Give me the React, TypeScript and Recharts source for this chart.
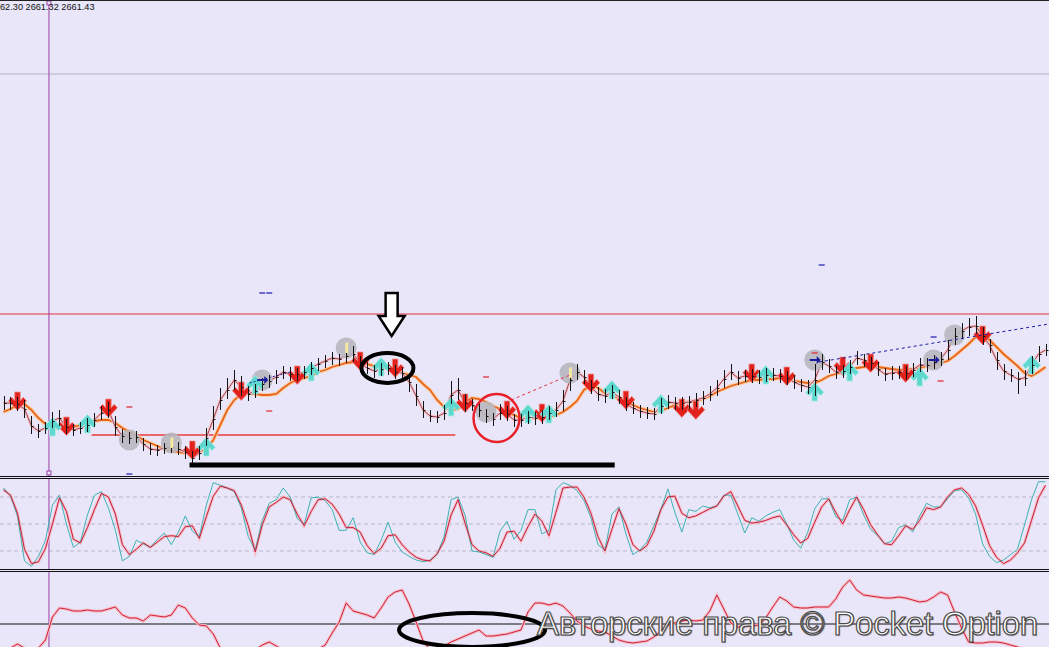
import React from "react";
import {
  ComposedChart,
  Line,
  Bar,
  Scatter,
  XAxis,
  YAxis,
  ReferenceLine,
  ReferenceDot,
} from "recharts";

const W = 1049;
const BG = "#e8e6f8";

// price, in points above the floor of the main panel
const closes = [
  73, 73, 72, 67, 50, 45, 48, 55, 58, 49,
  46, 48, 51, 56, 63, 66, 49, 40, 38, 39,
  32, 27, 26, 28, 29, 27, 24, 18, 23, 38,
  57, 76, 86, 96, 89, 82, 85, 92, 95, 99,
  104, 102, 102, 104, 108, 112, 115, 118, 117, 120,
  122, 113, 108, 105, 107, 108, 104, 103, 94, 80,
  66, 60, 59, 63, 81, 86, 73, 71, 66, 60,
  57, 63, 62, 56, 56, 59, 58, 59, 63, 66,
  75, 96, 104, 99, 89, 82, 80, 84, 79, 72,
  68, 65, 63, 62, 70, 74, 73, 73, 74, 76,
  78, 82, 88, 97, 104, 98, 100, 100, 99, 101,
  101, 100, 98, 94, 91, 89, 96, 114, 110, 104,
  105, 109, 118, 116, 113, 107, 102, 103, 104, 103,
  106, 111, 111, 114, 117, 126, 140, 145, 149, 150,
  140, 131, 116, 105, 101, 97, 98, 111, 122, 126,
];
const highs = [
  80, 79, 79, 76, 60, 52, 54, 64, 66, 57,
  52, 54, 58, 63, 70, 74, 60, 47, 44, 45,
  38, 33, 31, 33, 35, 34, 30, 25, 30, 48,
  70, 88, 98, 106, 100, 90, 92, 98, 101, 106,
  110, 109, 108, 110, 114, 118, 121, 124, 122, 127,
  130, 120, 114, 111, 113, 114, 111, 109, 103, 92,
  75, 66, 65, 71, 95, 98, 82, 77, 73, 67,
  63, 72, 70, 62, 62, 65, 64, 66, 70, 74,
  86, 108, 112, 106, 96, 89, 87, 91, 86, 79,
  74, 71, 69, 68, 78, 81, 79, 79, 80, 83,
  85, 90, 96, 106, 112, 105, 106, 107, 106, 108,
  108, 107, 105, 101, 97, 96, 112, 122, 117, 110,
  111, 116, 125, 122, 119, 114, 108, 110, 110, 110,
  113, 118, 118, 121, 124, 136, 148, 153, 158, 160,
  149, 137, 124, 112, 107, 104, 106, 120, 130, 132,
];
const lows = [
  66, 66, 65, 58, 42, 38, 42, 48, 50, 42,
  40, 42, 44, 49, 56, 58, 40, 33, 32, 33,
  25, 21, 20, 22, 23, 21, 17, 12, 16, 30,
  46, 66, 77, 86, 80, 75, 78, 85, 88, 92,
  97, 95, 95, 97, 101, 105, 108, 111, 110, 113,
  114, 106, 102, 98, 100, 101, 97, 96, 84, 70,
  58, 54, 53, 56, 72, 76, 64, 65, 59, 53,
  50, 56, 55, 49, 49, 52, 51, 52, 56, 59,
  65, 85, 96, 92, 82, 75, 73, 77, 72, 65,
  62, 58, 57, 56, 62, 67, 66, 66, 67, 69,
  71, 75, 80, 88, 96, 91, 94, 93, 92, 94,
  95, 93, 91, 87, 84, 82, 80, 106, 103, 97,
  98, 102, 111, 109, 106, 100, 95, 96, 97, 96,
  99, 104, 104, 107, 110, 116, 131, 137, 140, 142,
  131, 123, 106, 96, 94, 82, 90, 102, 114, 120,
];
const slowMa = [
  64, 67, 71, 72, 66, 58, 52, 49, 48, 48,
  49, 51, 54, 55, 56, 56, 53, 48, 44, 40,
  36, 33, 30, 27, 25, 24, 23, 23, 24, 27,
  36, 51, 66, 76, 82, 83, 82, 81, 81, 82,
  88, 93, 96, 98, 100, 104, 106, 109, 111, 113,
  114, 114, 112, 110, 109, 108, 106, 103, 101, 99,
  92, 86, 76, 69, 66, 67, 74, 78, 77, 74,
  70, 67, 64, 61, 58, 58, 58, 58, 59, 61,
  64, 69, 75, 86, 91, 88, 83, 80, 78, 75,
  71, 68, 66, 64, 65, 68, 71, 73, 74, 75,
  77, 80, 84, 87, 90, 92, 94, 96, 96, 97,
  97, 98, 97, 95, 94, 93, 93, 96, 100, 102,
  104, 106, 108, 109, 110, 109, 108, 107, 106, 106,
  107, 108, 110, 111, 113, 115, 120, 126, 132, 139,
  140, 136, 129, 122, 116, 110, 103, 100, 104, 109,
];

const stochK = [
  90, 81, 59, 9, 3, 14, 32, 71, 82, 50,
  24, 30, 60, 82, 86, 68, 43, 9, 14, 32,
  28, 24, 33, 40, 27, 41, 59, 42, 36, 71,
  96, 93, 90, 86, 68, 36, 21, 54, 73, 77,
  90, 80, 56, 50, 79, 80, 76, 66, 43, 43,
  57, 30, 18, 16, 32, 52, 30, 19, 14, 10,
  8, 10, 16, 36, 77, 80, 60, 20, 19, 16,
  13, 42, 53, 33, 43, 66, 66, 39, 43, 88,
  96, 93, 87, 76, 57, 27, 21, 61, 69, 39,
  16, 21, 30, 48, 66, 89, 63, 41, 66, 64,
  70, 68, 70, 82, 82, 61, 40, 57, 53, 59,
  63, 66, 50, 32, 23, 41, 67, 78, 78, 58,
  54, 77, 80, 60, 44, 37, 28, 31, 46, 49,
  41, 59, 73, 69, 69, 78, 87, 88, 79, 61,
  28, 14, 7, 10, 16, 22, 49, 77, 97, 97,
];
const stochD = [
  88, 82, 62, 22, 6, 8, 23, 50, 79, 64,
  33, 29, 46, 66, 84, 80, 61, 27, 16, 22,
  29, 24, 30, 36, 37, 36, 47, 48, 34, 58,
  81, 92, 90, 87, 71, 48, 19, 49, 69, 74,
  80, 77, 61, 48, 64, 77, 78, 72, 61, 46,
  46, 41, 26, 17, 23, 37, 38, 27, 19, 13,
  10, 9, 17, 31, 60, 77, 51, 27, 20, 18,
  14, 23, 41, 42, 31, 47, 61, 53, 37, 63,
  90, 91, 91, 80, 62, 36, 20, 44, 67, 50,
  27, 20, 26, 42, 66, 80, 81, 62, 57, 59,
  63, 67, 70, 81, 86, 70, 54, 51, 52, 54,
  57, 59, 49, 38, 29, 34, 52, 69, 78, 63,
  50, 66, 80, 66, 49, 38, 28, 27, 37, 48,
  44, 54, 68, 66, 69, 80, 88, 90, 83, 70,
  49, 26, 13, 6, 10, 18, 29, 54, 79, 93,
];
const oscillator = [
  -28, -24, -20, -24, -26, -24, -16, 7, 16, 15,
  13, 13, 14, 13, 13, 15, 17, 9, 6, 6,
  3, 9, 8, 7, 9, 19, 16, 6, -1, -2,
  -10, -24, -28, -30, -30, -29, -26, -21, -18, -22,
  -26, -28, -29, -28, -27, -25, -21, -9, 2, 21,
  13, 11, 9, 6, 16, 27, 32, 34, 20, 2,
  -17, -26, -26, -22, -18, -15, -12, -9, -6, -12,
  -12, -11, -10, -8, -6, 12, 21, 21, 19, 21,
  18, 11, 3, -2, -5, -7, -8, -12, -16, -18,
  -19, -18, -17, -13, -7, -1, 1, 3, 4, 3,
  4, 13, 29, 15, 1, -3, -2, -2, -1, 6,
  17, 27, 23, 17, 16, 16, 17, 17, 17, 25,
  37, 44, 34, 29, 28, 27, 26, 26, 27, 26,
  24, 22, 23, 27, 32, 29, 12, -4, -18, -19,
  -19, -18, -18, -19, -21, -23, -25, -27, -28, -28,
];

// [bar, level]
const sellSignals = [
  [2, 73], [9, 48], [15, 66], [27, 24], [34, 83], [42, 99], [51, 113],
  [56, 106], [66, 71], [72, 64], [77, 61], [84, 91], [89, 74], [97, 66],
  [99, 64], [107, 101], [112, 98], [120, 108], [124, 111], [129, 101], [140, 139],
];
const buySignals = [
  [7, 51], [12, 54], [29, 31], [36, 93], [44, 106], [54, 111], [64, 71],
  [75, 64], [78, 64], [87, 88], [94, 74], [109, 103], [116, 86], [121, 106],
  [131, 101], [147, 113],
];
const pivots = [
  [18, 36], [24, 33], [37, 96], [49, 128], [69, 64], [81, 103], [116, 116],
  [133, 116], [136, 141],
];
const pivotMarks = [
  [24, 33, "y"], [37, 96, "b"], [49, 128, "y"], [81, 103, "y"], [116, 116, "b"],
  [133, 116, "b"],
];
const blueTicks = [[37, 183], [38, 183], [117, 211], [18, 2], [133, 139]];
const redTicks = [[18, 69], [38, 65], [69, 99], [134, 95], [116, 123]];

const priceData = closes.map((c, i) => ({
  i,
  close: c,
  range: [lows[i], highs[i]],
  ma: slowMa[i],
}));
const stochData = stochK.map((k, i) => ({ i, k, d: stochD[i] }));
const oscData = oscillator.map((v, i) => ({ i, v }));
const toPts = (arr: any[]) => arr.map(([i, v, kind]) => ({ i, v, kind }));

const N = closes.length;
const M = { top: 0, right: 0, bottom: 0, left: 0 };
const XAX = <XAxis dataKey="i" type="number" domain={[-0.5, N - 0.5]} hide />;

const DownArrow = ({ cx, cy }: any) => (
  <path
    transform={`translate(${cx},${cy})`}
    d="M-2.8,-11 L2.8,-11 L2.8,-2.5 L5.8,-5.8 L9,-2.2 L0,7.5 L-9,-2.2 L-5.8,-5.8 L-2.8,-2.5 Z"
    fill="#e2201c"
    stroke="#f09490"
    strokeWidth={0.8}
  />
);
const UpArrow = ({ cx, cy }: any) => (
  <path
    transform={`translate(${cx},${cy})`}
    d="M-2.8,11 L2.8,11 L2.8,2.5 L5.8,5.8 L9,2.2 L0,-7.5 L-9,2.2 L-5.8,5.8 L-2.8,2.5 Z"
    fill="#5ed7cf"
    stroke="#a8ece6"
    strokeWidth={0.8}
  />
);
const Pivot = ({ cx, cy }: any) => (
  <circle cx={cx} cy={cy} r={10.5} fill="#b8b7be" opacity={0.9} />
);
const PivotMark = ({ cx, cy, payload }: any) =>
  payload.kind === "b" ? (
    <path
      transform={`translate(${cx},${cy})`}
      d="M-5,-1 L2,-1 L2,-4 L6,0 L2,4 L2,1 L-5,1 Z"
      fill="#1c1c9c"
    />
  ) : (
    <path transform={`translate(${cx},${cy})`} d="M-1,-5 L2,-6 L2,5 L-1,5 Z" fill="#f3e6a0" />
  );
const tick = (color: string) => ({ cx, cy }: any) => (
  <line x1={cx - 3} x2={cx + 3} y1={cy} y2={cy} stroke={color} strokeWidth={1.3} />
);

const OhlcBar = (props: any) => {
  const { x, y, width, height, payload } = props;
  if (height == null || isNaN(y)) return null;
  const cx = Math.round(x + width / 2) + 0.5;
  const [lo, hi] = payload.range;
  const cy = Math.round(y + ((hi - payload.close) / (hi - lo)) * height) + 0.5;
  return (
    <g>
      <line x1={cx} x2={cx} y1={y} y2={y + height} stroke="#141414" strokeWidth={1} />
      <line x1={cx} x2={cx + 2} y1={cy} y2={cy} stroke="#141414" strokeWidth={1} />
    </g>
  );
};

const HollowArrow = ({ cx, cy }: any) => (
  <path
    transform={`translate(${cx},${cy})`}
    d="M-6,-22 L6,-22 L6,1 L13,1 L0,21 L-13,1 L-6,1 Z"
    fill="#ffffff"
    stroke="#000"
    strokeWidth={2.5}
  />
);
const ring = (rx: number, ry: number, color: string, sw: number) => ({ cx, cy }: any) => (
  <ellipse cx={cx} cy={cy} rx={rx} ry={ry} fill="none" stroke={color} strokeWidth={sw} />
);
const Square = ({ cx, cy }: any) => (
  <rect x={cx - 2} y={cy - 2} width={4} height={4} fill={BG} stroke="#9a3ea6" strokeWidth={1} />
);

const PURPLE = "#9a3ea6";

function PriceLayer({ children }: { children: React.ReactNode }) {
  return (
    <div style={{ position: "absolute", left: 0, top: 0 }}>
      <ComposedChart width={W} height={476} data={priceData} margin={M}>
        {XAX}
        <YAxis domain={[0, 476]} allowDataOverflow hide />
        {children}
      </ComposedChart>
    </div>
  );
}

export default function App() {
  const hline = (top: number) => (
    <div style={{ position: "absolute", left: 0, top, width: W, height: 1, background: "#111" }} />
  );
  return (
    <div
      style={{
        position: "absolute",
        left: 0,
        top: 0,
        width: W,
        height: 647,
        background: BG,
        overflow: "hidden",
        fontFamily: "'Liberation Sans', Arial, sans-serif",
      }}
    >
      {/* main panel: levels, pivots and moving averages */}
      <PriceLayer>
        <ReferenceLine y={402} stroke="#b6b3c8" strokeWidth={1} />
        <ReferenceLine y={162} stroke="#e2303c" strokeWidth={1.2} />
        <ReferenceLine x={6.5} stroke={PURPLE} strokeWidth={1} />
        <ReferenceLine
          segment={[{ x: 12.6, y: 41 }, { x: 64.6, y: 41 }]}
          stroke="#ec3a3a"
          strokeWidth={1.5}
        />
        <Scatter data={toPts(pivots)} dataKey="v" shape={Pivot} isAnimationActive={false} />
        <Line dataKey="ma" stroke="#fbd0ae" strokeWidth={4} dot={false} isAnimationActive={false} />
        <Line dataKey="ma" stroke="#e8661c" strokeWidth={1.8} dot={false} isAnimationActive={false} />
        <Line dataKey="close" stroke="#f6c6cc" strokeWidth={3} dot={false} isAnimationActive={false} />
        <Line dataKey="close" stroke="#9c4a5a" strokeWidth={1} dot={false} isAnimationActive={false} />
      </PriceLayer>

      {/* main panel: signal arrows */}
      <PriceLayer>
        <Scatter data={toPts(sellSignals)} dataKey="v" shape={DownArrow} isAnimationActive={false} />
        <Scatter data={toPts(buySignals)} dataKey="v" shape={UpArrow} isAnimationActive={false} />
      </PriceLayer>

      {/* main panel: bars and drawings */}
      <PriceLayer>
        <Bar dataKey="range" barSize={3} shape={OhlcBar} isAnimationActive={false} />
        <Scatter data={toPts(pivotMarks)} dataKey="v" shape={PivotMark} isAnimationActive={false} />
        <Scatter data={toPts(blueTicks)} dataKey="v" shape={tick("#2a2ab4")} isAnimationActive={false} />
        <Scatter data={toPts(redTicks)} dataKey="v" shape={tick("#e2303c")} isAnimationActive={false} />
        <ReferenceLine
          segment={[{ x: 72.6, y: 76 }, { x: 81, y: 101 }]}
          stroke="#e2303c"
          strokeDasharray="3 3"
          strokeWidth={1}
        />
        <ReferenceLine
          segment={[{ x: 116.6, y: 114 }, { x: 149.5, y: 152 }]}
          stroke="#1c1ca0"
          strokeDasharray="3 3"
          strokeWidth={1}
        />
        <ReferenceLine
          segment={[{ x: 35.2, y: 93 }, { x: 41, y: 104 }]}
          stroke="#1c1ca0"
          strokeDasharray="2 2"
          strokeWidth={1}
        />
        <ReferenceLine
          segment={[{ x: 26.6, y: 11 }, { x: 87.4, y: 11 }]}
          stroke="#000"
          strokeWidth={5}
        />
        <ReferenceDot x={55.5} y={161} shape={HollowArrow} />
        <ReferenceDot x={54.9} y={108} shape={ring(26, 15, "#000", 4)} />
        <ReferenceDot x={70.5} y={58} shape={ring(23, 24, "#e8202a", 2.5)} />
        <ReferenceDot x={6.5} y={473} shape={Square} />
        <ReferenceDot x={6.5} y={3} shape={Square} />
      </PriceLayer>

      <div style={{ position: "absolute", left: 0, top: 0, width: W, height: 1, background: "#222" }} />
      <div
        style={{
          position: "absolute",
          left: 0,
          top: 2,
          fontSize: 9.2,
          color: "#111",
          whiteSpace: "nowrap",
        }}
      >
        62.30 2661.32 2661.43
      </div>

      {hline(476)}
      {hline(478)}

      {/* stochastic */}
      <div style={{ position: "absolute", left: 0, top: 479 }}>
        <ComposedChart width={W} height={90} data={stochData} margin={M}>
          {XAX}
          <YAxis domain={[0, 100]} allowDataOverflow hide />
          {[20, 50, 80].map((l) => (
            <ReferenceLine key={l} y={l} stroke="#b9b7c9" strokeDasharray="4 3" />
          ))}
          <ReferenceLine x={6.5} stroke={PURPLE} />
          <Line dataKey="d" stroke="#f5bcc6" strokeWidth={3} dot={false} isAnimationActive={false} />
          <Line dataKey="k" stroke="#3fb2b4" strokeWidth={1} dot={false} isAnimationActive={false} />
          <Line dataKey="d" stroke="#c21f3c" strokeWidth={1} dot={false} isAnimationActive={false} />
        </ComposedChart>
      </div>

      {hline(569)}
      {hline(571)}

      {/* lower oscillator */}
      <div style={{ position: "absolute", left: 0, top: 572 }}>
        <ComposedChart width={W} height={75} data={oscData} margin={M}>
          {XAX}
          <YAxis domain={[-23, 52]} allowDataOverflow hide />
          <ReferenceLine y={0} stroke="#111" strokeWidth={1.2} />
          <ReferenceLine x={6.5} stroke={PURPLE} />
          <Line dataKey="v" stroke="#f5bcc6" strokeWidth={3} dot={false} isAnimationActive={false} />
          <Line dataKey="v" stroke="#d0203a" strokeWidth={1} dot={false} isAnimationActive={false} />
          <ReferenceDot x={67} y={-6} shape={ring(73, 17, "#000", 4)} />
        </ComposedChart>
      </div>

      <div
        style={{
          position: "absolute",
          left: 537,
          top: 605,
          fontSize: 33,
          color: "#ffffff",
          WebkitTextStroke: "1.2px #4a4a4a",
          textShadow: "1px 1px 1px rgba(0,0,0,0.35)",
          whiteSpace: "nowrap",
          letterSpacing: -0.2,
        }}
      >
        Авторские права © Pocket Option
      </div>
    </div>
  );
}
